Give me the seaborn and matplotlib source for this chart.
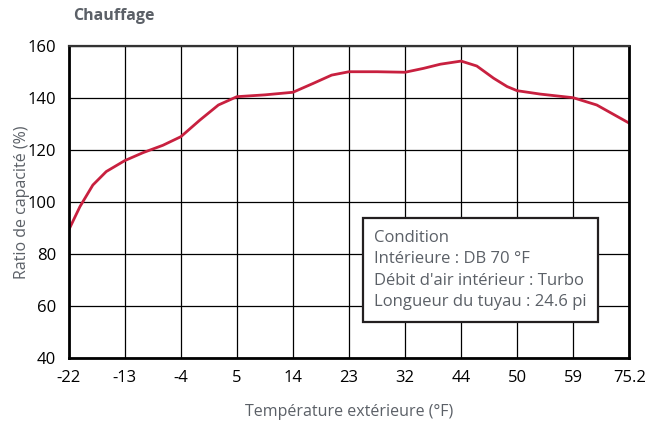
import matplotlib
matplotlib.use("Agg")
import matplotlib.pyplot as plt
import numpy as np
import pandas as pd
import seaborn as sns

# --- Data ---
temp_labels = ["-22", "-13", "-4", "5", "14", "23", "32", "44", "50", "59", "75.2"]
# curve samples: position along the (evenly spaced) temperature axis, ratio in %
curve_pos = [0, 0.2, 0.43, 0.67, 1, 1.33, 1.68, 2, 2.34, 2.67, 3, 3.5,
             4, 4.36, 4.69, 5, 5.5, 6, 6.33, 6.63, 7, 7.28, 7.58, 7.82,
             8, 8.41, 9, 9.42, 10]
curve_ratio = [89.2, 98.2, 106.5, 111.7, 115.9, 119.0, 121.8, 125.1, 131.5, 137.3, 140.5, 141.2,
               142.2, 145.6, 148.8, 150.1, 150.1, 149.9, 151.4, 153.0, 154.2, 152.3, 147.6, 144.4,
               142.8, 141.5, 140.1, 137.3, 130.3]
y_ticks = [40, 60, 80, 100, 120, 140, 160]
condition_lines = ["Condition", "Intérieure : DB 70 °F",
                   "Débit d'air intérieur : Turbo", "Longueur du tuyau : 24.6 pi"]

df = pd.DataFrame({"pos": curve_pos, "ratio": curve_ratio})

sns.set_style("white")
plt.rcParams["font.family"] = ["Open Sans", "DejaVu Sans"]

grey = "#5b6067"
red = "#c8203f"

fig, ax = plt.subplots(figsize=(6.61, 4.26), dpi=100)
fig.subplots_adjust(left=0.104, right=0.952, top=0.892, bottom=0.16)

sns.lineplot(data=df, x="pos", y="ratio", color=red, linewidth=2, ax=ax)
ax.lines[0].set_solid_joinstyle("round")

ax.set_xlim(0, len(temp_labels) - 1)
ax.set_ylim(y_ticks[0], y_ticks[-1])
ax.set_xticks(range(len(temp_labels)))
ax.set_xticklabels(temp_labels)
ax.set_yticks(y_ticks)
ax.tick_params(length=0, labelsize=12, colors="black")
ax.tick_params(axis="x", pad=9)
ax.tick_params(axis="y", pad=9)
ax.grid(True, color="black", linewidth=0.9)
ax.set_axisbelow(True)
for s in ax.spines.values():
    s.set_visible(True)
    s.set_color("black")
    s.set_linewidth(2)
ax.spines["top"].set_linewidth(1.6)
ax.spines["top"].set_color("#333333")

ax.set_xlabel("Température extérieure (°F)", color=grey, fontsize=11.5, labelpad=13)
ax.set_ylabel("Ratio de capacité (%)", color=grey, fontsize=11.5, labelpad=-2)

fig.text(0.11, 0.962, "Chauffage", color=grey, fontsize=11.5, fontweight="bold", va="center")

# condition box
ax.text(0.545, 0.41, "\n".join(condition_lines), transform=ax.transAxes,
        fontsize=12, color=grey, va="top", ha="left", linespacing=1.45, zorder=5,
        bbox=dict(boxstyle="square,pad=0.7", facecolor="white", edgecolor="#231f20", linewidth=1.6))

fig.savefig("out.png", dpi=100)
